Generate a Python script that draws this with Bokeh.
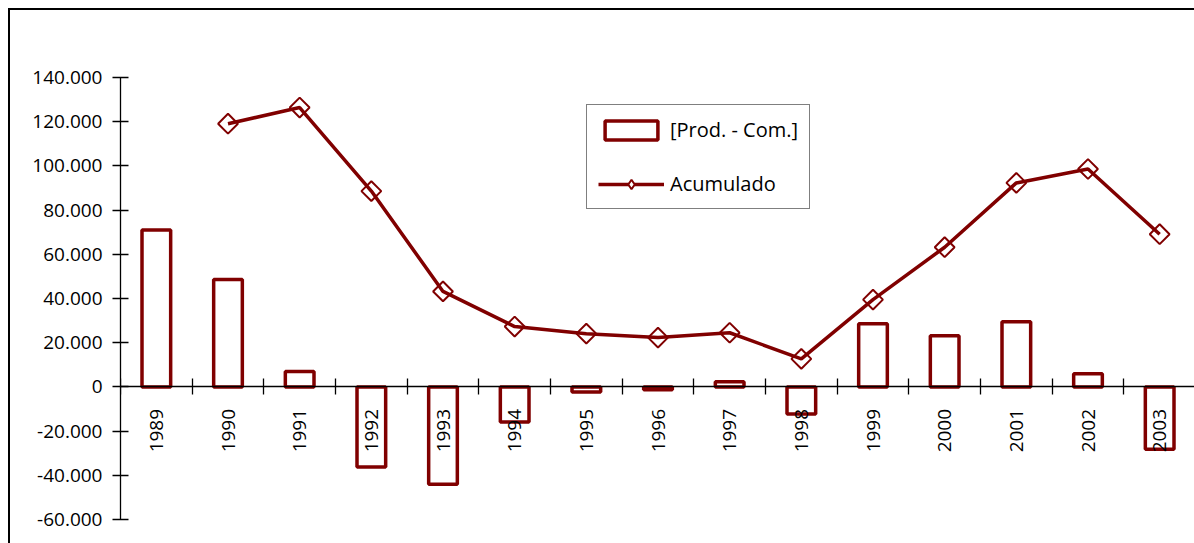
import math
from bokeh.plotting import figure
from bokeh.models import (Range1d, FixedTicker, CustomJSTickFormatter, Legend,
                          LegendItem)
from bokeh.core.properties import value
from bokeh.embed import file_html
from bokeh.resources import INLINE

# ---- data -------------------------------------------------------------
years = ["1989", "1990", "1991", "1992", "1993", "1994", "1995", "1996",
         "1997", "1998", "1999", "2000", "2001", "2002", "2003"]
prod_com = [71000, 48600, 7000, -36300, -44100, -15900, -2300, -1300,
            2300, -12300, 28600, 23200, 29500, 5900, -28200]
acumulado = [float("nan"), 119100, 126400, 88600, 43200, 27300, 24100, 22300,
             24500, 12700, 39500, 63200, 92300, 98600, 69100]
y_ticks = [-60000, -40000, -20000, 0, 20000, 40000, 60000, 80000,
           100000, 120000, 140000]

DARK_RED = "#800000"
FONT = "Open Sans"
FSIZE = "19px"

idx = list(range(len(years)))
boundaries = [i - 0.5 for i in range(len(years) + 1)]

p = figure(width=1184, height=533,
           x_range=Range1d(-0.5, len(years) - 0.5),
           y_range=Range1d(y_ticks[0], y_ticks[-1]),
           output_backend="svg", toolbar_location=None,
           min_border_left=110, min_border_right=1,
           min_border_top=67, min_border_bottom=26)
p.styles = {"margin-left": "8px", "margin-top": "8px",
            "border-left": "2px solid black", "border-top": "2px solid black",
            "box-sizing": "content-box"}
p.outline_line_color = None
p.xgrid.visible = False
p.ygrid.visible = False
p.background_fill_color = "white"
p.border_fill_color = "white"

# y axis
ya = p.yaxis[0]
ya.ticker = FixedTicker(ticks=y_ticks)
ya.formatter = CustomJSTickFormatter(
    code="return tick.toFixed(0).replace(/\\B(?=(\\d{3})+(?!\\d))/g, '.');")
ya.major_tick_in = 8
ya.major_tick_out = 8
ya.minor_tick_line_color = None
ya.axis_line_color = "black"
ya.axis_line_width = 1.3
ya.major_tick_line_color = "black"
ya.major_tick_line_width = 1.3
ya.major_label_text_font = FONT
ya.major_label_text_font_size = FSIZE
ya.major_label_text_color = "black"
ya.major_label_standoff = 10

# x axis at y = 0, ticks between categories
xa = p.xaxis[0]
xa.fixed_location = 0
xa.ticker = FixedTicker(ticks=boundaries)
xa.formatter = CustomJSTickFormatter(code="return '';")
xa.major_tick_in = 8
xa.major_tick_out = 8
xa.minor_tick_line_color = None
xa.axis_line_color = "black"
xa.axis_line_width = 1.3
xa.major_tick_line_color = "black"
xa.major_tick_line_width = 1.3

# bars
bars = p.vbar(x=idx, top=prod_com, bottom=0, width=0.4,
              fill_color="white", line_color=DARK_RED, line_width=3.5)

# year labels (rotated)
p.text(x=idx, y=[0] * len(years), text=years, angle=math.pi / 2,
       text_align="right", text_baseline="middle", y_offset=22,
       text_font=value(FONT), text_font_size=FSIZE, text_color="black")

# cumulative line
ln = p.line(x=idx, y=acumulado, line_color=DARK_RED, line_width=3.5)
mk = p.scatter(x=idx, y=acumulado, marker="square", size=14,
               angle=math.pi / 4, fill_color=None,
               line_color=DARK_RED, line_width=2)
# legend-only marker (one point without coordinates, so nothing is drawn)
mk_leg = p.scatter(x=[float("nan")], y=[float("nan")], marker="diamond",
                   size=14, fill_color="white",
                   line_color=DARK_RED, line_width=2)

legend = Legend(items=[LegendItem(label="[Prod. - Com.]", renderers=[bars]),
                       LegendItem(label="Acumulado", renderers=[ln, mk_leg])],
                location=(466, 310))
legend.border_line_color = "black"
legend.border_line_width = 1
legend.background_fill_color = "white"
legend.background_fill_alpha = 1
legend.label_text_font = FONT
legend.label_text_font_size = "20px"
legend.label_text_color = "black"
legend.glyph_width = 66
legend.glyph_height = 24
legend.label_height = 24
legend.spacing = 27
legend.padding = 11
legend.label_standoff = 6
legend.margin = 0
p.add_layout(legend, "center")

open("out.html", "w").write(file_html(p, INLINE))
